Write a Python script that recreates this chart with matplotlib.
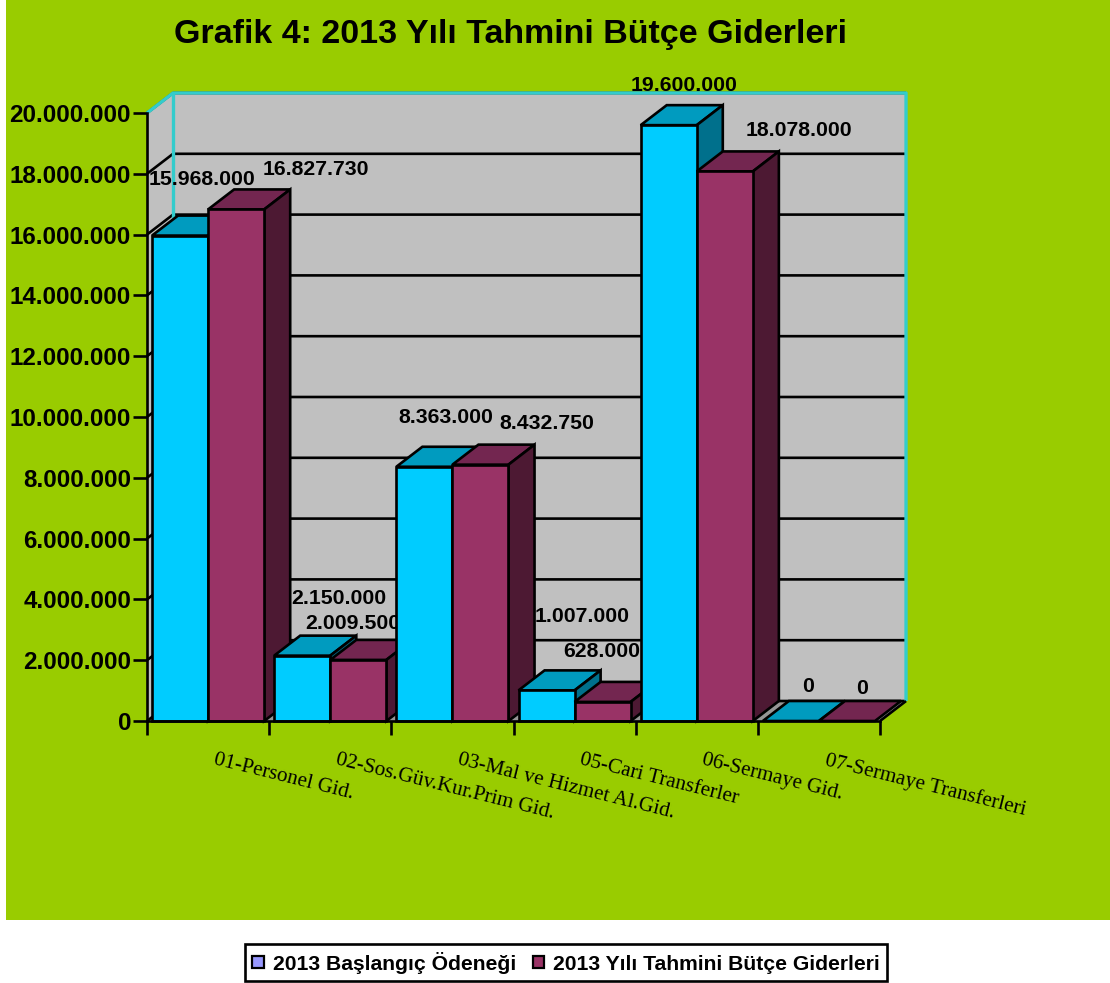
# 2013 budget chart, fake 3d bars drawn by hand on a normal axes

from matplotlib import pyplot as plt
from matplotlib.patches import Polygon, Patch, Rectangle

plt.rcParams['font.family'] = ['Liberation Sans', 'DejaVu Sans']

categories = ['01-Personel Gid.', '02-Sos.Güv.Kur.Prim Gid.', '03-Mal ve Hizmet Al.Gid.',
              '05-Cari Transferler', '06-Sermaye Gid.', '07-Sermaye Transferleri']
baslangic = [15968000, 2150000, 8363000, 1007000, 19600000, 0]
tahmini = [16827730, 2009500, 8432750, 628000, 18078000, 0]
baslangic_labels = ['15.968.000', '2.150.000', '8.363.000', '1.007.000', '19.600.000', '0']
tahmini_labels = ['16.827.730', '2.009.500', '8.432.750', '628.000', '18.078.000', '0']
yticks = [0, 2000000, 4000000, 6000000, 8000000, 10000000, 12000000, 14000000,
          16000000, 18000000, 20000000]
ytick_labels = ['0', '2.000.000', '4.000.000', '6.000.000', '8.000.000', '10.000.000',
                '12.000.000', '14.000.000', '16.000.000', '18.000.000', '20.000.000']

W, H = 1110, 983
GREEN = '#99CC00'
WALL = '#C0C0C0'
CYAN_LINE = '#33CCCC'
LW = 1.9

fig = plt.figure(figsize=(W / 100, H / 100), dpi=100, facecolor='white')
fig.add_artist(Rectangle((6 / W, 1 - 920 / H), (W - 6) / W, 920 / H, transform=fig.transFigure,
                         facecolor=GREEN, edgecolor='none', zorder=-5))

ax = fig.add_axes([147 / W, 1 - 721 / H, 733 / W, 608 / H])
ax.patch.set_visible(False)
ax.set_xlim(0, 6)
ax.set_ylim(0, 20000000)

# depth of the fake 3d, in data units
dx = 26 / 122
dy = 20 / 608 * 20000000
bar_w = 56 / 122
gap = 5 / 122


def poly(pts, fc, z, ec='black', lw=LW):
    ax.add_patch(Polygon(pts, closed=True, facecolor=fc, edgecolor=ec, linewidth=lw,
                         zorder=z, clip_on=False, joinstyle='miter'))


def line(xs, ys, c='black', lw=LW, z=2):
    ax.plot(xs, ys, color=c, lw=lw, zorder=z, clip_on=False, solid_capstyle='butt')


def bar3d(x, h, front, top, side, z):
    poly([(x, h), (x + dx, h + dy), (x + bar_w + dx, h + dy), (x + bar_w, h)], top, z)
    if h > 0:
        poly([(x + bar_w, 0), (x + bar_w + dx, dy), (x + bar_w + dx, h + dy), (x + bar_w, h)], side, z)
        poly([(x, 0), (x + bar_w, 0), (x + bar_w, h), (x, h)], front, z)


# walls and floor
ymax = yticks[-1]
poly([(dx, dy), (6 + dx, dy), (6 + dx, ymax + dy), (dx, ymax + dy)], WALL, 1, ec='none', lw=0)
poly([(0, 0), (dx, dy), (dx, ymax + dy), (0, ymax)], WALL, 1, ec='none', lw=0)
poly([(0, 0), (6, 0), (6 + dx, dy), (dx, dy)], '#969696', 1, ec='none', lw=0)
for t in yticks:
    line([0, dx, 6 + dx], [t, t + dy, t + dy])
line([0, dx, 6 + dx, 6 + dx], [ymax, ymax + dy, ymax + dy, dy], c=CYAN_LINE, lw=2.4, z=2.5)
line([dx, dx], [dy, ymax + dy], c=CYAN_LINE, lw=2.4, z=2.5)
line([6, 6 + dx], [0, dy], z=2.5)

# data labels sit under the bars, later bars cut them off
offsets_b = [(22, 56), (37, 57), (21, 49), (36, 74), (15, 40), (17, 34)]
offsets_t = [(80, 40), (-5, 36), (66, 41), (-1, 50), (74, 41), (15, 33)]
for i in range(len(categories)):
    xb = i + gap
    xt = i + gap + bar_w
    bar3d(xb, baslangic[i], '#00CCFF', '#009BBF', '#00708C', 4 + i * 0.1)
    bar3d(xt, tahmini[i], '#993366', '#732650', '#4D1933', 4.05 + i * 0.1)
    ax.annotate(baslangic_labels[i], (xb + bar_w / 2, baslangic[i]), xytext=offsets_b[i],
                textcoords='offset pixels', ha='center', va='center', fontsize=15.3,
                fontweight='bold', zorder=3, annotation_clip=False)
    ax.annotate(tahmini_labels[i], (xt + bar_w / 2, tahmini[i]), xytext=offsets_t[i],
                textcoords='offset pixels', ha='center', va='center', fontsize=15.3,
                fontweight='bold', zorder=3, annotation_clip=False)
    ax.annotate(categories[i], (i + 0.5, 0), xytext=(6, -39), textcoords='offset pixels',
                ha='left', va='center', rotation=-14, rotation_mode='anchor',
                family=['Liberation Serif'], fontsize=15.2, annotation_clip=False)

# axes, ticks
for s in ['top', 'right']:
    ax.spines[s].set_visible(False)
for s in ['left', 'bottom']:
    ax.spines[s].set_linewidth(LW)
    ax.spines[s].set_zorder(6)
ax.set_yticks(yticks)
ax.set_yticklabels(ytick_labels, fontsize=17.4, fontweight='bold')
ax.set_xticks(range(7))
ax.set_xticklabels([])
ax.tick_params(length=10, width=LW, pad=1.5)

fig.text(511 / W, 1 - 34 / H, 'Grafik 4: 2013 Yılı Tahmini Bütçe Giderleri', ha='center',
         va='center', fontsize=24.5, fontweight='bold')

handles = [Patch(facecolor='#9999FF', edgecolor='black', linewidth=1.6, label='2013 Başlangıç Ödeneği'),
           Patch(facecolor='#993366', edgecolor='black', linewidth=1.6, label='2013 Yılı Tahmini Bütçe Giderleri')]
leg = fig.legend(handles=handles, loc='center', bbox_to_anchor=(566 / W, 1 - 962.5 / H), ncol=2,
                 prop={'size': 15.2, 'weight': 'bold'}, fancybox=False, framealpha=1,
                 edgecolor='black', handlelength=0.55, handleheight=0.55, handletextpad=0.4,
                 columnspacing=0.8, borderpad=0.35, borderaxespad=0)
leg.get_frame().set_linewidth(LW)

plt.savefig('out.png', dpi=100, facecolor='white')
